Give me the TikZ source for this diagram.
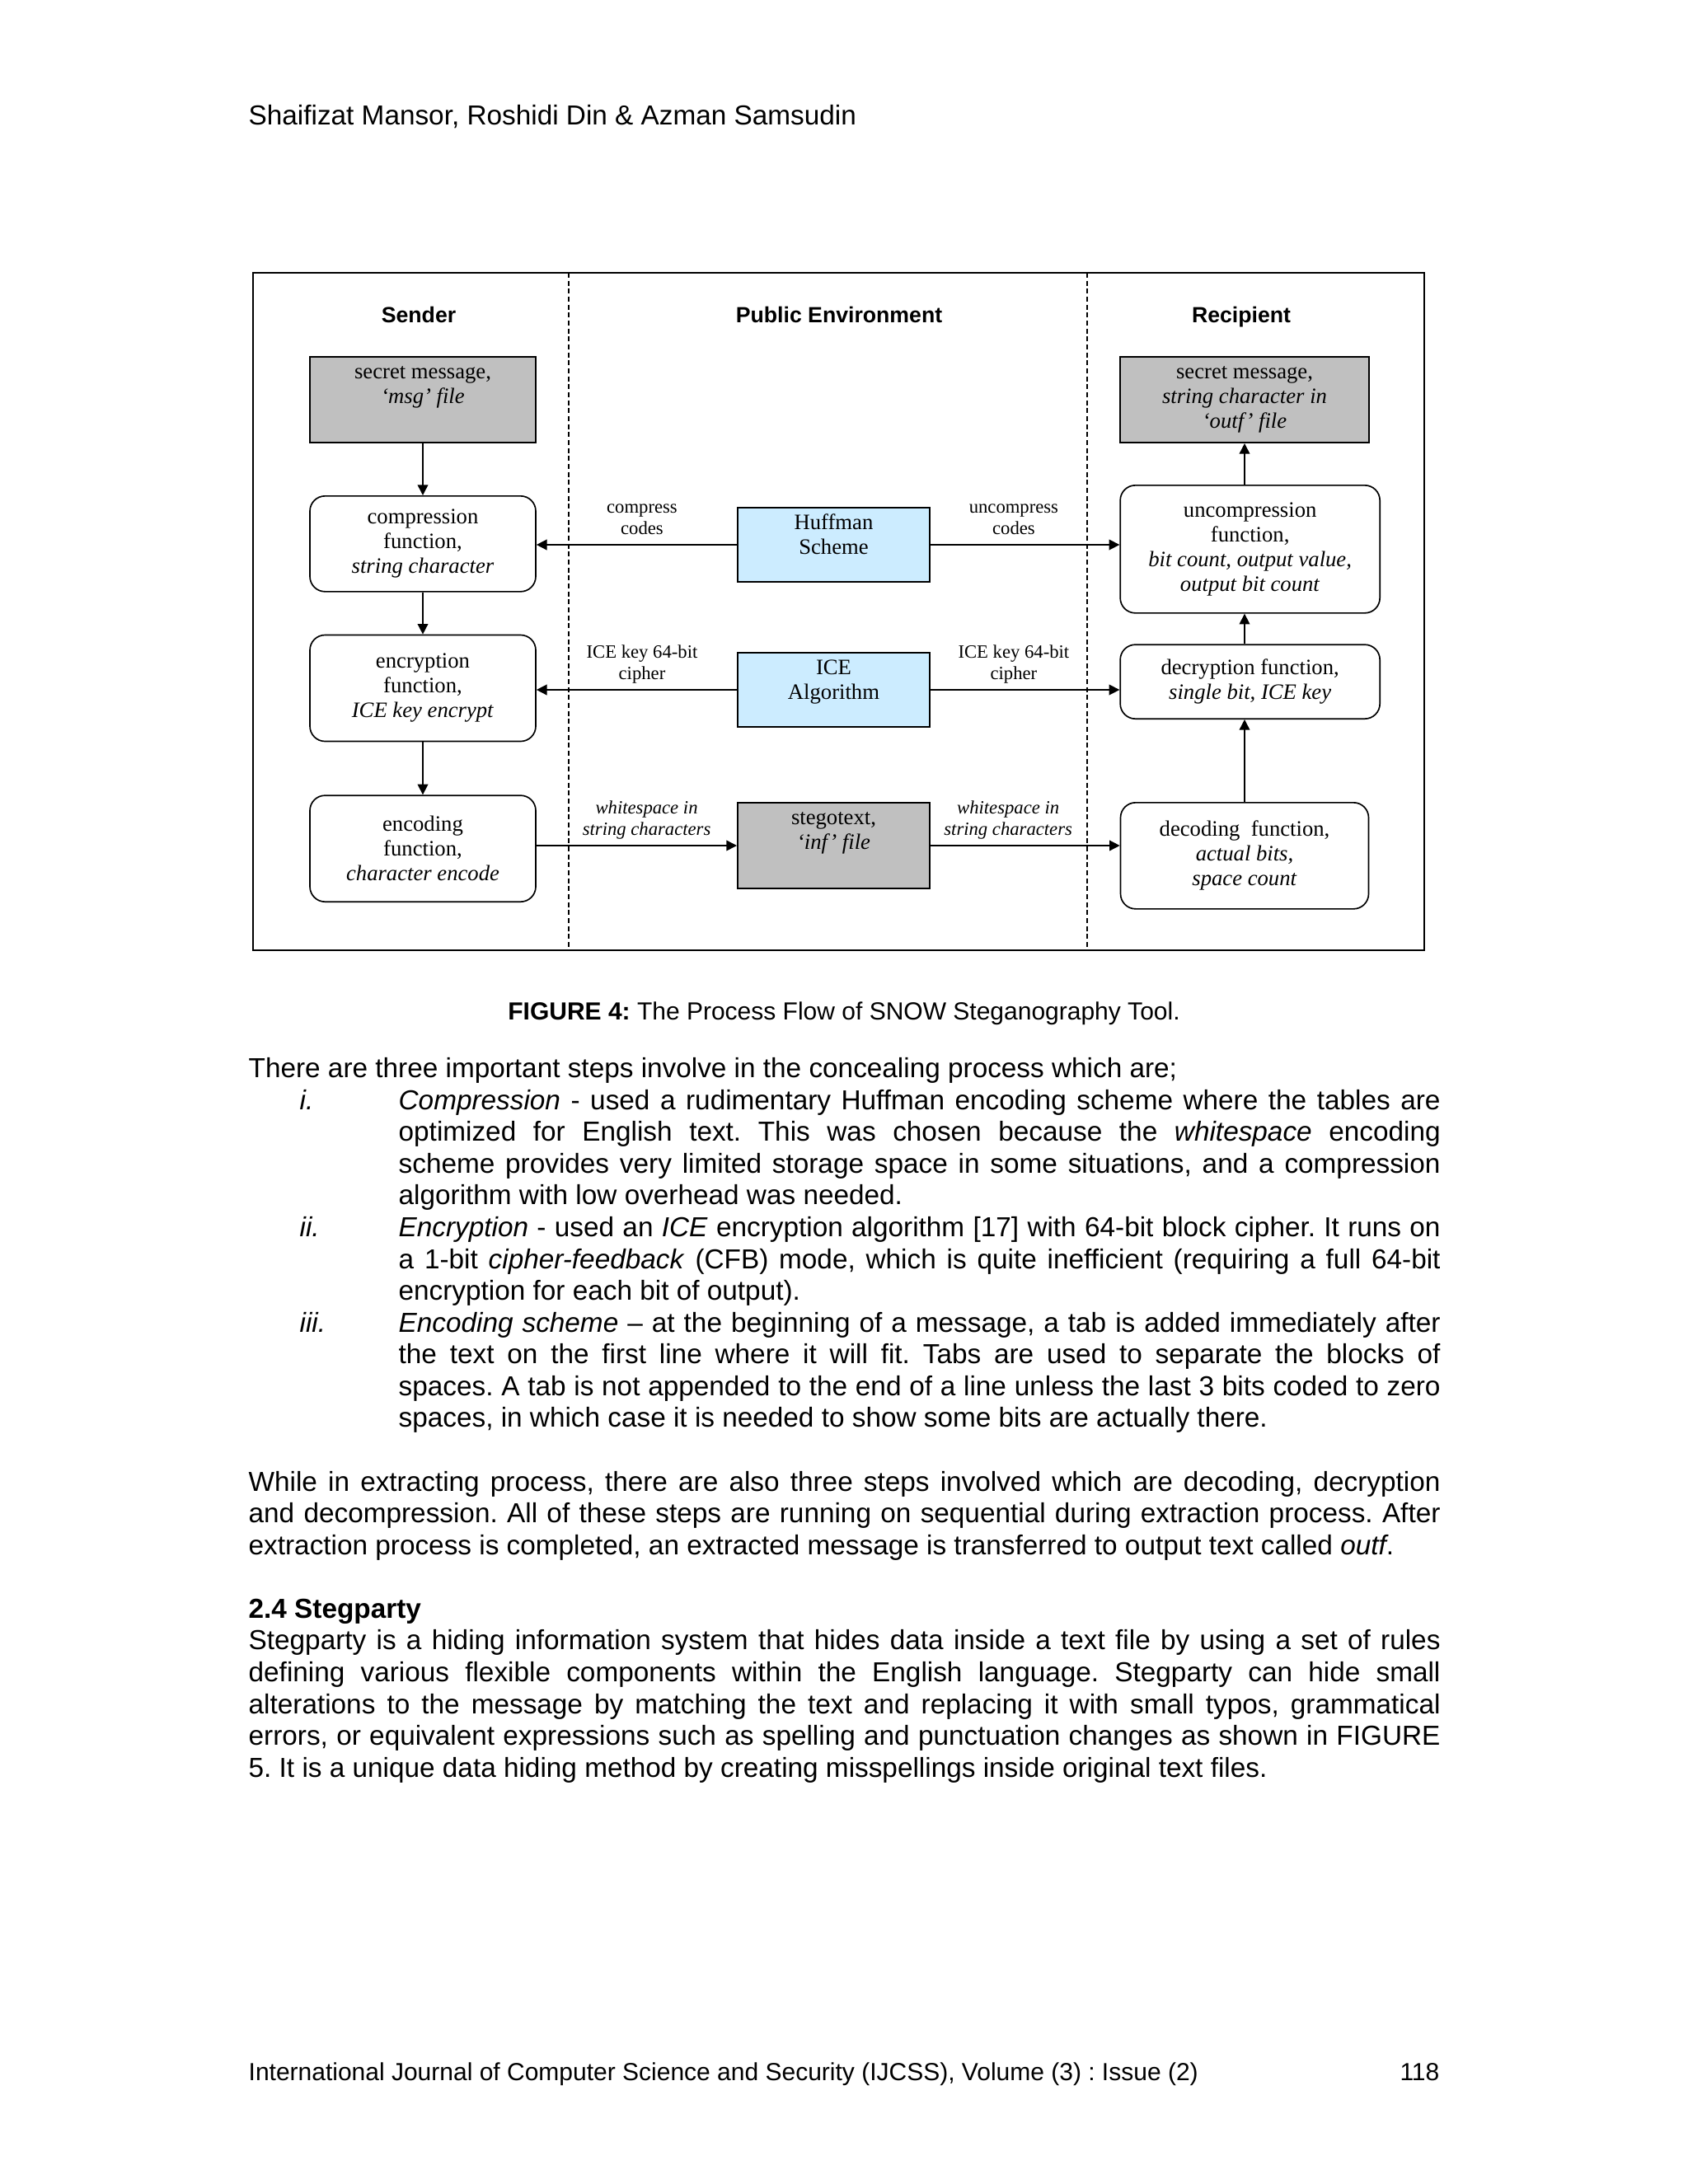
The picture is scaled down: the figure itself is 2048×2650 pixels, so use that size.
\documentclass[tikz,border=0pt]{standalone}
\usepackage{fontspec}
\setmainfont{Liberation Sans}
\newfontfamily\figserif{Liberation Serif}
\usetikzlibrary{arrows.meta,positioning}

\definecolor{filegrey}{RGB}{192,192,192}
\definecolor{toolblue}{RGB}{204,236,255}

\newcommand{\procfont}{\figserif\fontsize{8}{9}\selectfont}
\newcommand{\tagfont}{\figserif\fontsize{6.8}{7.6}\selectfont}
\newcommand{\lanefont}{\bfseries\fontsize{8}{9.6}\selectfont}
\newcommand{\txtfont}{\fontsize{10}{11.57}\selectfont}
\newcommand{\captfont}{\fontsize{9}{10.35}\selectfont}
\setlength{\parindent}{0pt}
\tolerance=9999
\frenchspacing

\tikzset{
  procbox/.style={draw, rounded corners=5.5pt, line width=0.5pt, align=center,
    font=\procfont, inner sep=0pt},
  filebox/.style={draw, line width=0.6pt, fill=filegrey, inner sep=0pt},
  toolbox/.style={draw, line width=0.6pt, fill=toolblue, inner sep=0pt,
    minimum width=69.9pt, minimum height=27pt},
  boxtext/.style={anchor=north, yshift=-1.8pt, inner sep=0pt, align=center,
    font=\procfont},
  tag/.style={above=3.6pt, inner sep=0pt, text depth=0pt, align=center,
    font=\tagfont},
  flow/.style={-{Triangle[length=3.8pt,width=3.8pt]}, line width=0.45pt},
  lane/.style={dash pattern=on 1.8pt off 1.1pt, line width=0.5pt},
  lanehead/.style={anchor=base, inner sep=0pt, font=\lanefont},
  bodytext/.style={anchor=north west, inner sep=0pt, text width=433.8pt,
    align=justify, font=\txtfont},
}

\begin{document}
\begin{tikzpicture}[x=0.3pt, y=-0.3pt]
  \useasboundingbox[fill=white] (0,0) rectangle (2048,2650);

  \node[anchor=base west, inner sep=0pt, font=\txtfont] (authors) at (301,151)
  {Shaifizat Mansor, Roshidi Din \& Azman Samsudin};

  % frame and lanes
  \draw[line width=0.6pt] (307,331) rectangle (1728,1153);
  \draw[lane] (690,331) -- (690,1153);
  \draw[lane] (1319,331) -- (1319,1153);

  \node[lanehead] (sender)    at (508,391.5)  {Sender};
  \node[lanehead] (public)    at (1018,391.5) {Public Environment};
  \node[lanehead] (recipient) at (1506,391.5) {Recipient};

  % sender side
  \node[filebox, minimum width=82.2pt, minimum height=31.2pt] (msg) at (513,485) {};
  \node[boxtext] (msg text) at (msg.north)
  {\strut secret message,\\\textit{‘msg’ file}};
  \node[procbox, minimum width=82.2pt, minimum height=34.8pt, below=18.9pt of msg] (comp)
  {compression\\function,\\\textit{string character}};
  \node[procbox, minimum width=82.2pt, minimum height=38.7pt, below=15.3pt of comp] (encr)
  {encryption\\function,\\\textit{ICE key encrypt}};
  \node[procbox, minimum width=82.2pt, minimum height=38.7pt, below=19.2pt of encr] (enco)
  {encoding\\function,\\\textit{character encode}};

  % public environment
  \node[toolbox] (huff) at (1011.5,661) {};
  \node[boxtext] (huff text) at (huff.north) {\strut Huffman\\Scheme};
  \node[toolbox, below=25.2pt of huff] (ice) {};
  \node[boxtext] (ice text) at (ice.north) {\strut ICE\\Algorithm};
  \node[filebox, minimum width=69.9pt, minimum height=31.2pt, below=27pt of ice] (steg) {};
  \node[boxtext] (steg text) at (steg.north)
  {\strut stegotext,\\\textit{‘inf’ file}};

  % recipient side
  \node[filebox, minimum width=90.6pt, minimum height=31.2pt] (outf) at (1510,485) {};
  \node[boxtext] (outf text) at (outf.north)
  {\strut secret message,\\\textit{string character in}\\\textit{‘outf’ file}};
  \node[procbox, minimum width=94.5pt, minimum height=46.5pt, below=15pt of outf, xshift=2pt] (uncomp)
  {uncompression\\function,\\\textit{bit count, output value,}\\\textit{output bit count}};
  \node[procbox, minimum width=94.5pt, minimum height=27pt, below=11pt of uncomp] (decr)
  {decryption function,\\\textit{single bit, ICE key}};
  \node[procbox, minimum width=90.3pt, minimum height=38.7pt, below=30pt of decr, xshift=-2pt] (deco)
  {decoding\ \ function,\\\textit{actual bits,}\\\textit{space count}};

  \draw[flow] (msg)  -- (comp);
  \draw[flow] (comp) -- (encr);
  \draw[flow] (encr) -- (enco);

  \draw[flow] (huff.west) -- node[tag, pos=0.473] (compress codes) {compress\\codes}
  (huff.west -| comp.east);
  \draw[flow] (ice.west) -- node[tag, pos=0.473] (key left) {ICE key 64-bit\\cipher}
  (ice.west -| encr.east);
  \draw[flow] (enco.east |- steg.west) -- node[tag, pos=0.55] (space left)
  {\textit{whitespace in}\\\textit{string characters}} (steg.west);

  \draw[flow] (huff.east) -- node[tag, pos=0.44] (uncompress codes) {uncompress\\codes}
  (huff.east -| uncomp.west);
  \draw[flow] (ice.east) -- node[tag, pos=0.44] (key right) {ICE key 64-bit\\cipher}
  (ice.east -| decr.west);
  \draw[flow] (steg.east) -- node[tag, pos=0.41] (space right)
  {\textit{whitespace in}\\\textit{string characters}} (steg.east -| deco.west);

  \draw[flow] (deco.north) -- (deco.north |- decr.south);
  \draw[flow] (outf.south |- decr.north) -- (outf.south |- uncomp.south);
  \draw[flow] (outf.south |- uncomp.north) -- (outf.south);

  \node[anchor=base, inner sep=0pt, font=\captfont] (caption) at (1024,1237)
  {\textbf{FIGURE 4:} The Process Flow of SNOW Steganography Tool.};

  % page text
  \node[bodytext] (steps) at (301,1280) {\strut There are three important steps involve in the concealing process which are;\par
  \hangindent=54.6pt\hangafter=1
  \hspace*{18.6pt}\makebox[36pt][l]{\textit{i.}}\textit{Compression} - used a rudimentary Huffman encoding scheme where the tables are\linebreak
  optimized for English text. This was chosen because the \textit{whitespace} encoding\linebreak
  scheme provides very limited storage space in some situations, and a compression\linebreak
  algorithm with low overhead was needed.\par
  \hangindent=54.6pt\hangafter=1
  \hspace*{18.6pt}\makebox[36pt][l]{\textit{ii.}}\textit{Encryption} - used an \textit{ICE} encryption algorithm [17] with 64-bit block cipher. It runs on\linebreak
  a 1-bit \textit{cipher-feedback} (CFB) mode, which is quite inefficient (requiring a full 64-bit\linebreak
  encryption for each bit of output).\par
  \hangindent=54.6pt\hangafter=1
  \hspace*{18.6pt}\makebox[36pt][l]{\textit{iii.}}\textit{Encoding scheme} – at the beginning of a message, a tab is added immediately after\linebreak
  the text on the first line where it will fit. Tabs are used to separate the blocks of\linebreak
  spaces. A tab is not appended to the end of a line unless the last 3 bits coded to zero\linebreak
  spaces, in which case it is needed to show some bits are actually there.\par};

  \node[bodytext] (extract) at (301,1781.4) {\strut While in extracting process, there are also three steps involved which are decoding, decryption\linebreak
  and decompression. All of these steps are running on sequential during extraction process. After\linebreak
  extraction process is completed, an extracted message is transferred to output text called \textit{outf}.};

  \node[bodytext] (stegparty) at (301,1935.7) {\strut\textbf{2.4 Stegparty}\par
  Stegparty is a hiding information system that hides data inside a text file by using a set of rules\linebreak
  defining various flexible components within the English language. Stegparty can hide small\linebreak
  alterations to the message by matching the text and replacing it with small typos, grammatical\linebreak
  errors, or equivalent expressions such as spelling and punctuation changes as shown in FIGURE\linebreak
  5. It is a unique data hiding method by creating misspellings inside original text files.};

  \node[anchor=base west, inner sep=0pt, font=\captfont] (journal) at (301,2524)
  {International Journal of Computer Science and Security (IJCSS), Volume (3) : Issue (2)};
  \node[anchor=base east, inner sep=0pt, font=\captfont] (pageno) at (1747,2524) {118};
\end{tikzpicture}
\end{document}
